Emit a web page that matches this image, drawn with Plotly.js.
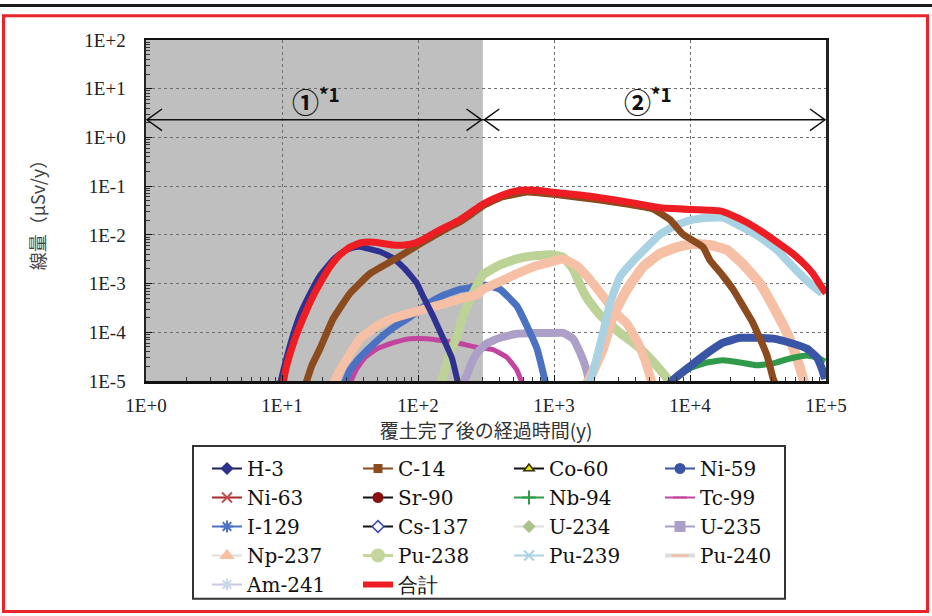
<!DOCTYPE html>
<html><head><meta charset="utf-8">
<script src="https://cdn.plot.ly/plotly-3.0.1.min.js"></script>
<style>html,body{margin:0;padding:0;background:#fff;}#chart{width:932px;height:616px;}</style>
</head><body><div id="chart"></div>
<script>
// ---- data (years, μSv/y) ----
const t_H3 = [9.6, 10.3, 12.0, 13.6, 16.1, 19.0, 21.4, 24.5, 28.1, 32.7, 37.5, 44.4, 52.6, 65.5, 80.2, 98.4, 109, 129, 150, 178, 197];
const v_H3 = [8e-6, 1.8e-5, 8.5e-5, 2.35e-4, 6.3e-4, 1.45e-3, 2.2e-3, 3.35e-3, 4.5e-3, 5.4e-3, 5.7e-3, 5.1e-3, 4.5e-3, 3.35e-3, 2.0e-3, 1.0e-3, 5.5e-4, 2.15e-4, 8.5e-5, 2.9e-5, 9e-6];

const t_C14 = [15.0, 16.6, 19.0, 23.7, 31.6, 44.4, 65.5, 87.3, 109, 133, 163, 204, 249, 301, 401, 632, 1107, 2180, 3441, 5346, 7126, 8887, 12470, 14030, 17200, 20720, 24530, 29040, 32730, 36840, 40770, 42900];
const v_C14 = [9e-6, 2.1e-5, 4.6e-5, 1.87e-4, 6.3e-4, 1.6e-3, 3.0e-3, 4.9e-3, 7.1e-3, 9.8e-3, 1.35e-2, 1.87e-2, 2.7e-2, 3.95e-2, 5.8e-2, 7.6e-2, 6.6e-2, 5.2e-2, 4.3e-2, 3.4e-2, 2.05e-2, 1.02e-2, 5.6e-3, 3.0e-3, 1.52e-3, 7.6e-4, 3.45e-4, 1.55e-4, 7.4e-5, 3.35e-5, 1.15e-5, 8.3e-6];

const t_Ni59 = [6890, 7497, 10000, 13340, 17490, 23330, 31100, 40770, 54320, 72490, 85830, 93500, 98400];
const v_Ni59 = [7.6e-6, 1.05e-5, 2.0e-5, 3.7e-5, 6.1e-5, 7.7e-5, 7.7e-5, 7.4e-5, 6.1e-5, 4.6e-5, 3.05e-5, 1.75e-5, 1.1e-5];

const t_Nb94 = [7126, 8440, 10000, 13340, 17490, 23330, 31100, 40770, 54320, 72490, 85830, 98400];
const v_Nb94 = [9.1e-6, 1.38e-5, 1.83e-5, 2.4e-5, 2.66e-5, 2.4e-5, 2.1e-5, 2.3e-5, 2.9e-5, 3.35e-5, 3.05e-5, 2.5e-5];

const t_Tc99 = [31.6, 35.0, 40.8, 50.0, 65.5, 87.3, 116.5, 152.6, 203.6, 271.6, 355.7, 451, 534, 582];
const v_Tc99 = [9.1e-6, 1.67e-5, 3.05e-5, 4.6e-5, 6.1e-5, 7.4e-5, 7.4e-5, 6.7e-5, 5.9e-5, 4.9e-5, 4.4e-5, 3.05e-5, 1.67e-5, 9.1e-6];

const t_I129 = [28.1, 31.6, 37.5, 50.0, 65.5, 87.3, 116.5, 152.6, 203.6, 271.6, 301, 401, 534, 632, 750, 830, 873];
const v_I129 = [7.6e-6, 1.67e-5, 3.05e-5, 6.7e-5, 1.23e-4, 2.06e-4, 3.77e-4, 5.7e-4, 7.6e-4, 8.7e-4, 9.5e-4, 7.6e-4, 3.45e-4, 1.35e-4, 4.6e-5, 1.52e-5, 8.3e-6];

const t_U235 = [211, 229, 249, 276, 321, 401, 534, 701, 935, 1164, 1380, 1553, 1718, 1841];
const v_U235 = [8.3e-6, 1.32e-5, 2.4e-5, 4.0e-5, 5.9e-5, 7.7e-5, 9.3e-5, 9.7e-5, 9.7e-5, 9.7e-5, 7.4e-5, 3.85e-5, 1.83e-5, 8.3e-6];

const t_Pu238 = [145, 158, 172, 194, 214, 254, 301, 401, 534, 701, 935, 1164, 1380, 1553, 1749, 2180, 3056, 4077, 5346, 6330, 7126];
const v_Pu238 = [7.6e-6, 1.67e-5, 3.85e-5, 8.5e-5, 2.15e-4, 6.3e-4, 1.52e-3, 2.42e-3, 3.2e-3, 3.7e-3, 3.9e-3, 3.5e-3, 2.0e-3, 9.5e-4, 5.0e-4, 2.26e-4, 9.7e-5, 5.3e-5, 2.5e-5, 1.45e-5, 9.5e-6];

const t_Np237 = [23.7, 26.7, 30.1, 37.5, 50.0, 65.5, 87.3, 116.5, 152.6, 203.6, 271.6, 301, 401, 534, 701, 935, 1164, 1476, 1841, 2291, 2810, 3441, 4077, 4670, 5079, 5346];
const v_Np237 = [8.3e-6, 1.67e-5, 2.9e-5, 7.4e-5, 1.35e-4, 1.95e-4, 2.47e-4, 3.1e-4, 3.8e-4, 4.8e-4, 6.0e-4, 7.6e-4, 1.1e-3, 1.6e-3, 2.2e-3, 2.75e-3, 3.2e-3, 2.3e-3, 1.2e-3, 5.5e-4, 2.6e-4, 1.49e-4, 6.7e-5, 2.66e-5, 1.26e-5, 7.6e-6];

const t_Pu240 = [1690, 1841, 2291, 2716, 3441, 4511, 6015, 8019, 10520, 14030, 18710, 24530, 32730, 40770, 51650, 61170, 67740, 70150];
const v_Pu240 = [7.6e-6, 1.15e-5, 4.6e-5, 2.15e-4, 7.6e-4, 2.2e-3, 4.1e-3, 5.6e-3, 6.5e-3, 6.2e-3, 4.9e-3, 2.5e-3, 1.0e-3, 3.45e-4, 9.7e-5, 2.9e-5, 1.15e-5, 7.6e-6];

const t_Pu239 = [1778, 1937, 2291, 2582, 3056, 4077, 6015, 8019, 10520, 14030, 17490, 24530, 32730, 43620, 57150, 76250, 93500];
const v_Pu239 = [7.6e-6, 1.52e-5, 9.7e-5, 3.9e-4, 1.38e-3, 3.5e-3, 1.02e-2, 1.62e-2, 2.05e-2, 2.25e-2, 2.25e-2, 1.41e-2, 8.9e-3, 4.9e-3, 2.2e-3, 1.0e-3, 6.3e-4];

const t_Total = [10.2, 10.7, 12.3, 14.3, 16.9, 19.7, 22.5, 26.7, 31.6, 37.5, 44.4, 52.6, 65.5, 80.2, 95.1, 113, 133, 163, 204, 249, 301, 401, 517, 632, 859, 1107, 1553, 2180, 3441, 6015, 10520, 16630, 20720, 26240, 32730, 43620, 57150, 70150, 80180, 90300, 100000];
const v_Total = [9e-6, 1.83e-5, 6.7e-5, 1.95e-4, 5.5e-4, 1.2e-3, 2.2e-3, 3.9e-3, 5.6e-3, 6.8e-3, 7.1e-3, 6.8e-3, 6.2e-3, 6.2e-3, 6.8e-3, 8.5e-3, 1.12e-2, 1.49e-2, 2.05e-2, 2.99e-2, 4.3e-2, 6.3e-2, 7.9e-2, 8.3e-2, 7.9e-2, 7.2e-2, 6.6e-2, 5.8e-2, 4.75e-2, 3.6e-2, 3.3e-2, 3.1e-2, 2.47e-2, 1.79e-2, 1.23e-2, 7.1e-3, 4.1e-3, 2.42e-3, 1.6e-3, 9.6e-4, 6.3e-4];

const legendNames = ['H-3','C-14','Co-60','Ni-59','Ni-63','Sr-90','Nb-94','Tc-99','I-129','Cs-137','U-234','U-235','Np-237','Pu-238','Pu-239','Pu-240','Am-241','合計'];
const yTickVals = [1e-5, 1e-4, 1e-3, 1e-2, 1e-1, 1e0, 1e1, 1e2];
const yTickText = ['1E-5','1E-4','1E-3','1E-2','1E-1','1E+0','1E+1','1E+2'];
const xTickVals = [1, 10, 100, 1000, 10000, 100000];
const xTickText = ['1E+0','1E+1','1E+2','1E+3','1E+4','1E+5'];
const SHADE_END_YEAR = 300;

// ---- layout helpers (pixel -> paper) ----
const L = 146, R = 826, T = 40, B = 386;
const px = p => (p - L) / (R - L);
const py = p => (B - p) / (B - T);

function curve(x, y, color, width) {
  return {x: x, y: y, type: 'scatter', mode: 'lines', showlegend: false, hoverinfo: 'skip',
          line: {color: color, width: width, shape: 'spline', smoothing: 0.35}};
}
const traces = [
  curve(t_Tc99, v_Tc99, '#C2449F', 5),
  curve(t_U235, v_U235, '#AC9FC8', 8),
  curve(t_I129, v_I129, '#4B71C2', 7),
  curve(t_Pu238, v_Pu238, '#BCD296', 9),
  curve(t_Np237, v_Np237, '#F6C0A6', 9),
  curve(t_Pu240, v_Pu240, '#F6C0A6', 10),
  curve(t_Pu239, v_Pu239, '#A9D2E2', 8),
  curve(t_Nb94, v_Nb94, '#2F9A49', 6),
  curve(t_Ni59, v_Ni59, '#3A55A6', 8),
  curve(t_H3, v_H3, '#2E3190', 6),
  curve(t_C14, v_C14, '#8C4A1F', 7),
  curve(t_Total, v_Total, '#EE1D24', 7)
];

// legend entries (style per reference legend)
const legStyle = {
  'H-3':   {lc:'#1E2050', lw:2, sym:'diamond', mc:'#2E3190', ms:8},
  'C-14':  {lc:'#8C4A1F', lw:2, sym:'square', mc:'#8C4A1F', ms:7},
  'Co-60': {lc:'#111111', lw:2, sym:'triangle-up', mc:'#E8E000', ms:9, ml:'#333300'},
  'Ni-59': {lc:'#3A55A6', lw:2, sym:'circle', mc:'#3A55A6', ms:9},
  'Ni-63': {lc:'#A52A2A', lw:2, sym:'x-thin-open', mc:'#C0504D', ms:10},
  'Sr-90': {lc:'#111111', lw:2, sym:'circle', mc:'#8B1010', ms:9},
  'Nb-94': {lc:'#2F9A49', lw:2, sym:'cross-thin-open', mc:'#2F9A49', ms:10},
  'Tc-99': {lc:'#C2449F', lw:2, sym:'line-ew-open', mc:'#C2449F', ms:10},
  'I-129': {lc:'#4B71C2', lw:2, sym:'asterisk-open', mc:'#4B71C2', ms:10},
  'Cs-137':{lc:'#111111', lw:2, sym:'diamond', mc:'#FFFFFF', ms:9, ml:'#3A45B0'},
  'U-234': {lc:'#DDDDDD', lw:2, sym:'diamond', mc:'#A9C48A', ms:8},
  'U-235': {lc:'#AC9FC8', lw:2, sym:'square', mc:'#AC9FC8', ms:9},
  'Np-237':{lc:'#DDDDDD', lw:2, sym:'triangle-up', mc:'#F8BFA2', ms:10},
  'Pu-238':{lc:'#C3D69B', lw:3, sym:'circle', mc:'#C3D69B', ms:12},
  'Pu-239':{lc:'#A9D2E2', lw:2, sym:'x-thin-open', mc:'#A9D2E2', ms:10},
  'Pu-240':{lc:'#DDDDDD', lw:4, sym:'line-ew-open', mc:'#F6B9A0', ms:12},
  'Am-241':{lc:'#C8C8E2', lw:2, sym:'asterisk-open', mc:'#C8D8E8', ms:10},
  '合計':  {lc:'#EE1D24', lw:6}
};
legendNames.forEach(n => {
  const s = legStyle[n];
  const tr = {x: [null], y: [null], type: 'scatter', name: n, showlegend: true, hoverinfo: 'skip',
              mode: s.sym ? 'lines+markers' : 'lines', line: {color: s.lc, width: s.lw}};
  if (s.sym) tr.marker = {symbol: s.sym, color: s.mc, size: s.ms,
                          line: {color: s.ml || s.mc, width: s.ml ? 1.5 : 2}};
  traces.push(tr);
});

function minorVals(d0, d1) {
  const out = [];
  for (let d = d0; d < d1; d++) for (let k = 2; k <= 9; k++) out.push(k * Math.pow(10, d));
  return out;
}

const shadeX = Math.log10(SHADE_END_YEAR) / 5;
const arrowY = py(121);
const ah = 15 / (R - L), av = 11 / (B - T);
const xL = px(147), xR = px(825);
function chevron(xTip, dir) {
  return {type: 'path', xref: 'paper', yref: 'paper', layer: 'above',
          path: `M${xTip + dir*ah},${arrowY + av} L${xTip},${arrowY} L${xTip + dir*ah},${arrowY - av}`,
          line: {color: '#111', width: 1.5}};
}
const shapes = [
  {type: 'rect', xref: 'paper', yref: 'paper', x0: 0, x1: shadeX, y0: 0, y1: 1, layer: 'below',
   fillcolor: '#BFBFBF', line: {width: 0}},
  {type: 'line', xref: 'paper', yref: 'paper', x0: xL, x1: shadeX, y0: arrowY, y1: arrowY, line: {color: '#111', width: 1.5}},
  {type: 'line', xref: 'paper', yref: 'paper', x0: shadeX, x1: xR, y0: arrowY, y1: arrowY, line: {color: '#111', width: 1.5}},
  chevron(xL, 1), chevron(shadeX - 0.002, -1), chevron(shadeX + 0.002, 1), chevron(xR, -1),
  // legend box
  {type: 'rect', xref: 'paper', yref: 'paper', x0: px(193), x1: px(785), y0: py(607), y1: py(452),
   line: {color: '#333', width: 2}, fillcolor: 'rgba(0,0,0,0)'},
  // red frame and top rule
  {type: 'rect', xref: 'paper', yref: 'paper', x0: px(3.5), x1: px(927.5), y0: py(620), y1: py(15.5),
   line: {color: '#E8232A', width: 3}, fillcolor: 'rgba(0,0,0,0)'},
  {type: 'line', xref: 'paper', yref: 'paper', x0: px(0), x1: px(932), y0: py(5), y1: py(5),
   line: {color: '#1A1A1A', width: 3}}
];

const annotations = [
  {xref: 'paper', yref: 'paper', x: px(316), y: py(101), showarrow: false, xanchor: 'center', yanchor: 'middle',
   text: '<b>①</b><b><sup>*1</sup></b>', font: {family: 'Noto Sans CJK JP', size: 27, color: '#111'}},
  {xref: 'paper', yref: 'paper', x: px(648), y: py(101), showarrow: false, xanchor: 'center', yanchor: 'middle',
   text: '<b>②</b><b><sup>*1</sup></b>', font: {family: 'Noto Sans CJK JP', size: 27, color: '#111'}}
];

const tickFont = {family: 'Liberation Serif', size: 19, color: '#222'};
const layout = {
  width: 932, height: 616,
  margin: {l: L, r: 932 - R, t: T, b: 616 - B, pad: 0},
  paper_bgcolor: '#FFFFFF', plot_bgcolor: '#FFFFFF',
  showlegend: true,
  xaxis: {
    type: 'log', range: [0, 5], tickmode: 'array', tickvals: xTickVals, ticktext: xTickText,
    ticks: 'inside', ticklen: 6, tickcolor: '#111', tickfont: tickFont, ticklabelstandoff: 6,
    showline: true, linecolor: '#111', linewidth: 2.5, mirror: true,
    showgrid: true, gridcolor: '#707070', griddash: 'dot', gridwidth: 1, zeroline: false,
    minor: {tickmode: 'array', tickvals: minorVals(0, 5), ticks: 'inside', ticklen: 4, tickcolor: '#333', showgrid: false},
    title: {text: '覆土完了後の経過時間(y)', font: {family: 'Noto Sans CJK JP', size: 19, color: '#333'}, standoff: 9},
    automargin: false
  },
  yaxis: {
    type: 'log', range: [-5, 2], tickmode: 'array', tickvals: yTickVals, ticktext: yTickText,
    ticks: 'inside', ticklen: 6, tickcolor: '#111', tickfont: tickFont, ticklabelstandoff: 14,
    showline: true, linecolor: '#222', linewidth: 2.5, mirror: true,
    showgrid: true, gridcolor: '#707070', griddash: 'dot', gridwidth: 1, zeroline: false,
    minor: {tickmode: 'array', tickvals: minorVals(-5, 2), ticks: 'inside', ticklen: 4, tickcolor: '#333', showgrid: false},
    title: {text: '線量（μSv/y）', font: {family: 'Noto Sans CJK JP', size: 18, color: '#444'}, standoff: 34},
    automargin: false
  },
  legend: {
    orientation: 'h', x: px(207), xanchor: 'left', y: py(455), yanchor: 'top',
    xref: 'paper', yref: 'paper',
    entrywidth: 106, entrywidthmode: 'pixels', itemwidth: 30, traceorder: 'normal',
    bgcolor: 'rgba(0,0,0,0)', borderwidth: 0,
    font: {family: 'DejaVu Serif', size: 20, color: '#111'}
  },
  shapes: shapes,
  annotations: annotations
};

Plotly.newPlot('chart', traces, layout, {displayModeBar: false, staticPlot: true});
</script>
</body></html>
